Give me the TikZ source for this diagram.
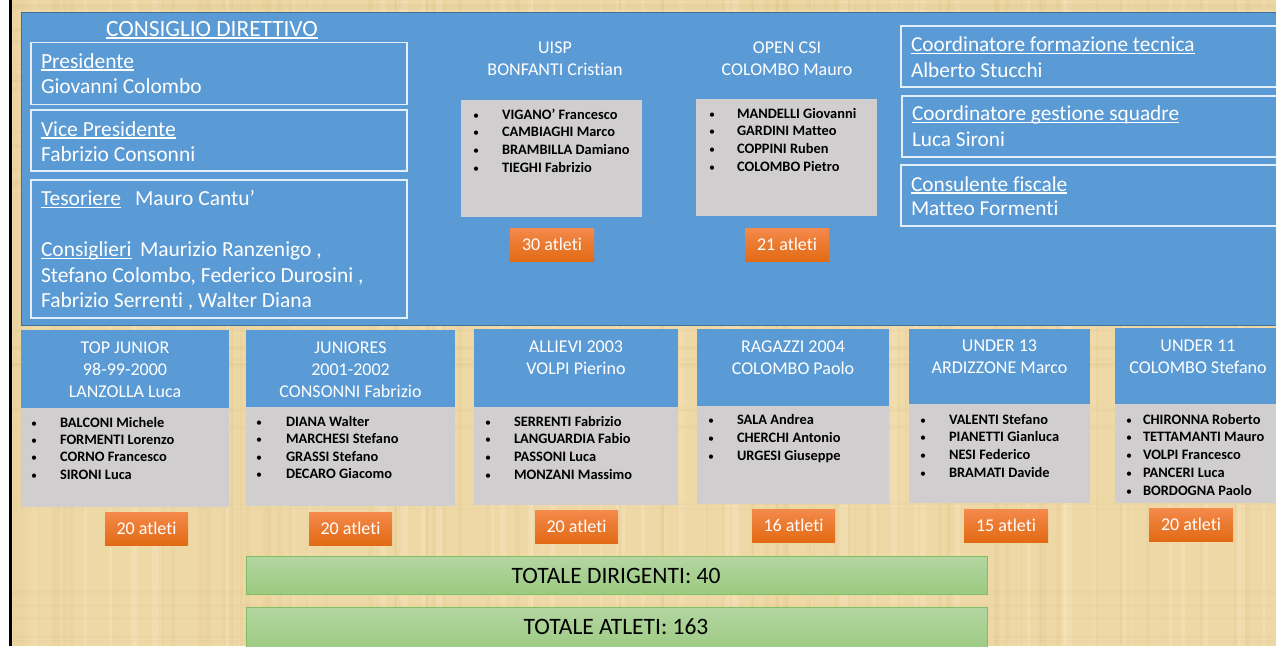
\documentclass[tikz,border=0pt]{standalone}
\usepackage{fontspec}
\setmainfont{Carlito}[Ligatures=NoCommon]
\definecolor{cblue}{RGB}{91,155,213}
\definecolor{cbord}{RGB}{65,113,156}
\definecolor{cgrey}{RGB}{208,206,206}
\definecolor{corT}{RGB}{244,138,76}
\definecolor{corB}{RGB}{226,106,20}
\definecolor{cgrT}{RGB}{180,214,162}
\definecolor{cgrB}{RGB}{155,202,128}
\definecolor{cgrD}{RGB}{130,190,100}
\definecolor{parch}{RGB}{238,216,166}
\definecolor{parchD}{RGB}{200,165,100}
\definecolor{parchL}{RGB}{250,238,205}
\definecolor{wline}{RGB}{226,238,248}
\newcommand\fsz[1]{\fontsize{#1}{#1}\selectfont}
\newcommand\ulin[1]{\setbox0\hbox{#1}\rlap{\rule[-2.6pt]{\wd0}{1.6pt}}\box0}
\newcommand\members[6]{%
  \foreach \t [count=\i from 0] in {#6} {
    \node[bul] (#1b\i) at (#2, {#4+#5*\i}) {•};
    \node[mem] (#1m\i) at (#3, {#4+#5*\i}) {\t};
  }}
\newcommand\heads[4]{%
  \foreach \t [count=\i from 0] in {#4} {
    \node[htxt] (#1h\i) at (#2, {#3+22.2*\i}) {\t};
  }}
\tikzset{
  box/.style={anchor=north west, inner sep=0, outer sep=0},
  board/.style={box, fill=cblue, draw=cbord, line width=1pt},
  wbox/.style={box, draw=wline, line width=1.4pt},
  hbox/.style={box, fill=cblue},
  gbox/.style={box, fill=cgrey},
  obox/.style={box, top color=corT, bottom color=corB, text=white, font=\fsz{18}},
  grbox/.style={box, top color=cgrT, bottom color=cgrB, draw=cgrD, line width=0.8pt},
  wtxt/.style={inner sep=0, outer sep=0, anchor=base west, text=white, font=\fsz{21.5}},
  rtxt/.style={inner sep=0, outer sep=0, anchor=base west, text=white, font=\fsz{21.3}},
  htxt/.style={inner sep=0, outer sep=0, anchor=base, text=white, font=\fsz{18}},
  bul/.style={inner sep=0, outer sep=0, anchor=base west, text=black, font=\fsz{12}},
  mem/.style={inner sep=0, outer sep=0, anchor=base west, text=black, font=\fsz{14.4}\bfseries},
  ttxt/.style={inner sep=0, outer sep=0, anchor=base, text=black, font=\fsz{23.5}},
}
\begin{document}
\begin{tikzpicture}[x=1pt,y=-1pt]
\useasboundingbox (0,0) rectangle (1276,646);
\clip (0,0) rectangle (1276,646);
% background
\fill[white] (0,0) rectangle (1276,646);
\fill[parch] (12,0) rectangle (1276,646);
\pgfmathsetseed{11}
\foreach \k in {1,...,90} {
  \pgfmathsetmacro\xx{12+rnd*1264}
  \pgfmathsetmacro\ww{1+rnd*5}
  \fill[parchD, opacity=0.08] (\xx,0) rectangle ++(\ww,646);
}
\foreach \k in {1,...,60} {
  \pgfmathsetmacro\xx{12+rnd*1264}
  \pgfmathsetmacro\ww{1+rnd*6}
  \fill[parchL, opacity=0.25] (\xx,0) rectangle ++(\ww,646);
}
\foreach \k in {1,...,40} {
  \pgfmathsetmacro\yy{rnd*646}
  \pgfmathsetmacro\hh{1+rnd*4}
  \fill[parchD, opacity=0.06] (12,\yy) rectangle ++(1264,\hh);
}
\fill[black] (9,0) rectangle (12,646);

% board
\node[board, minimum width=1262pt, minimum height=313pt] (board) at (21,12) {};
\node[inner sep=0, outer sep=0, anchor=base, text=white, font=\fsz{23.3}] (title) at (212,36) {\ulin{CONSIGLIO DIRETTIVO}};

\node[wbox, minimum width=376pt, minimum height=62pt] (pres) at (31,42.5) {};
\node[wbox, minimum width=376pt, minimum height=61pt] (vice) at (31,110) {};
\node[wbox, minimum width=376pt, minimum height=138pt] (tes) at (31,180) {};
\node[wtxt] (presL) at (41,68) {\ulin{Presidente}};
\node[wtxt] (presN) at (41,93.5) {Giovanni Colombo};
\node[wtxt] (viceL) at (41,136) {\ulin{Vice Presidente}};
\node[wtxt] (viceN) at (41,161) {Fabrizio Consonni};
\node[wtxt] (tesL) at (41,205.5) {\ulin{Tesoriere}};
\node[wtxt] (tesN) at (135,205.5) {Mauro Cantu’};
\node[wtxt] (consL) at (41,256.5) {\ulin{Consiglieri}};
\node[wtxt] (cons1) at (140,256.5) {Maurizio Ranzenigo ,};
\node[wtxt] (cons2) at (41,282.5) {Stefano Colombo, Federico Durosini ,};
\node[wtxt] (cons3) at (41,307) {Fabrizio Serrenti , Walter Diana};

% right boxes
\node[wbox, minimum width=400pt, minimum height=61pt] (coordT) at (901,26) {};
\node[wbox, minimum width=400pt, minimum height=61pt] (coordG) at (902,96) {};
\node[wbox, minimum width=400pt, minimum height=61pt] (fisc) at (901,165) {};
\node[rtxt] (coordTL) at (911,51.5) {\ulin{Coordinatore formazione tecnica}};
\node[rtxt] (coordTN) at (911,77) {Alberto Stucchi};
\node[rtxt] (coordGL) at (912,120.5) {\ulin{Coordinatore gestione squadre}};
\node[rtxt] (coordGN) at (912,146.5) {Luca Sironi};
\node[rtxt] (fiscL) at (911,191) {\ulin{Consulente fiscale}};
\node[rtxt] (fiscN) at (911,215) {Matteo Formenti};

% UISP / OPEN CSI
\heads{uisp}{555}{53.3}{UISP, BONFANTI Cristian}
\node[gbox, minimum width=181pt, minimum height=117pt] (uispG) at (461,100) {};
\members{uisp}{473}{502}{119}{17.77}{VIGANO’ Francesco, CAMBIAGHI Marco, BRAMBILLA Damiano, TIEGHI Fabrizio}
\node[obox, minimum width=84pt, minimum height=33pt] (uispO) at (510,228) {30 atleti};

\heads{open}{787}{53.3}{OPEN CSI, COLOMBO Mauro}
\node[gbox, minimum width=181pt, minimum height=117pt] (openG) at (696,99) {};
\members{open}{709}{737}{118.3}{17.6}{MANDELLI Giovanni, GARDINI Matteo, COPPINI Ruben, COLOMBO Pietro}
\node[obox, minimum width=84pt, minimum height=33pt] (openO) at (745,228) {21 atleti};

% bottom teams
\node[hbox, minimum width=208pt, minimum height=78pt] (tjH) at (21,330) {};
\node[gbox, minimum width=208pt, minimum height=99pt] (tjG) at (21,408) {};
\heads{tj}{125}{353.3}{TOP JUNIOR, 98-99-2000, LANZOLLA Luca}
\members{tj}{31}{60}{427.3}{17.33}{BALCONI Michele, FORMENTI Lorenzo, CORNO Francesco, SIRONI Luca}
\node[obox, minimum width=83pt, minimum height=33pt] (tjO) at (105,512) {20 atleti};

\node[hbox, minimum width=209pt, minimum height=77pt] (juH) at (246,330) {};
\node[gbox, minimum width=209pt, minimum height=99pt] (juG) at (246,407) {};
\heads{ju}{350.5}{353.3}{JUNIORES, 2001-2002, CONSONNI Fabrizio}
\members{ju}{256}{286}{426}{17.5}{DIANA Walter, MARCHESI Stefano, GRASSI Stefano, DECARO Giacomo}
\node[obox, minimum width=83pt, minimum height=33pt] (juO) at (309,512) {20 atleti};

\node[hbox, minimum width=204pt, minimum height=78pt] (alH) at (474,329) {};
\node[gbox, minimum width=204pt, minimum height=98pt] (alG) at (474,407) {};
\heads{al}{576}{352.3}{ALLIEVI 2003, VOLPI Pierino}
\members{al}{485}{514}{426}{17.75}{SERRENTI Fabrizio, LANGUARDIA Fabio, PASSONI Luca, MONZANI Massimo}
\node[obox, minimum width=83pt, minimum height=33pt] (alO) at (535,510) {20 atleti};

\node[hbox, minimum width=192pt, minimum height=77pt] (raH) at (697,329) {};
\node[gbox, minimum width=192pt, minimum height=98pt] (raG) at (697,406) {};
\heads{ra}{793}{352}{RAGAZZI 2004, COLOMBO Paolo}
\members{ra}{708}{737}{424}{18.1}{SALA Andrea, CHERCHI Antonio, URGESI Giuseppe}
\node[obox, minimum width=83pt, minimum height=33pt] (raO) at (752,509) {16 atleti};

\node[hbox, minimum width=181pt, minimum height=75pt] (u13H) at (909,329) {};
\node[gbox, minimum width=181pt, minimum height=99pt] (u13G) at (909,404) {};
\heads{u13}{999.5}{351.7}{UNDER 13, ARDIZZONE Marco}
\members{u13}{920}{949}{424}{17.75}{VALENTI Stefano, PIANETTI Gianluca, NESI Federico, BRAMATI Davide}
\node[obox, minimum width=84pt, minimum height=33pt] (u13O) at (964,509) {15 atleti};

\node[hbox, minimum width=170pt, minimum height=76pt] (u11H) at (1115,328) {};
\node[gbox, minimum width=170pt, minimum height=99pt] (u11G) at (1115,404) {};
\heads{u11}{1198}{351.7}{UNDER 11, COLOMBO Stefano}
\members{u11}{1126}{1143}{424}{17.75}{CHIRONNA Roberto, TETTAMANTI Mauro, VOLPI Francesco, PANCERI Luca, BORDOGNA Paolo}
\node[obox, minimum width=84pt, minimum height=33pt] (u11O) at (1149,508) {20 atleti};

% totals
\node[grbox, minimum width=741pt, minimum height=38pt] (totD) at (246,556) {};
\node[ttxt] (totDt) at (616,583.3) {TOTALE DIRIGENTI: 40};
\node[grbox, minimum width=741pt, minimum height=45pt] (totA) at (246,607) {};
\node[ttxt] (totAt) at (616,634) {TOTALE ATLETI: 163};
\end{tikzpicture}
\end{document}
